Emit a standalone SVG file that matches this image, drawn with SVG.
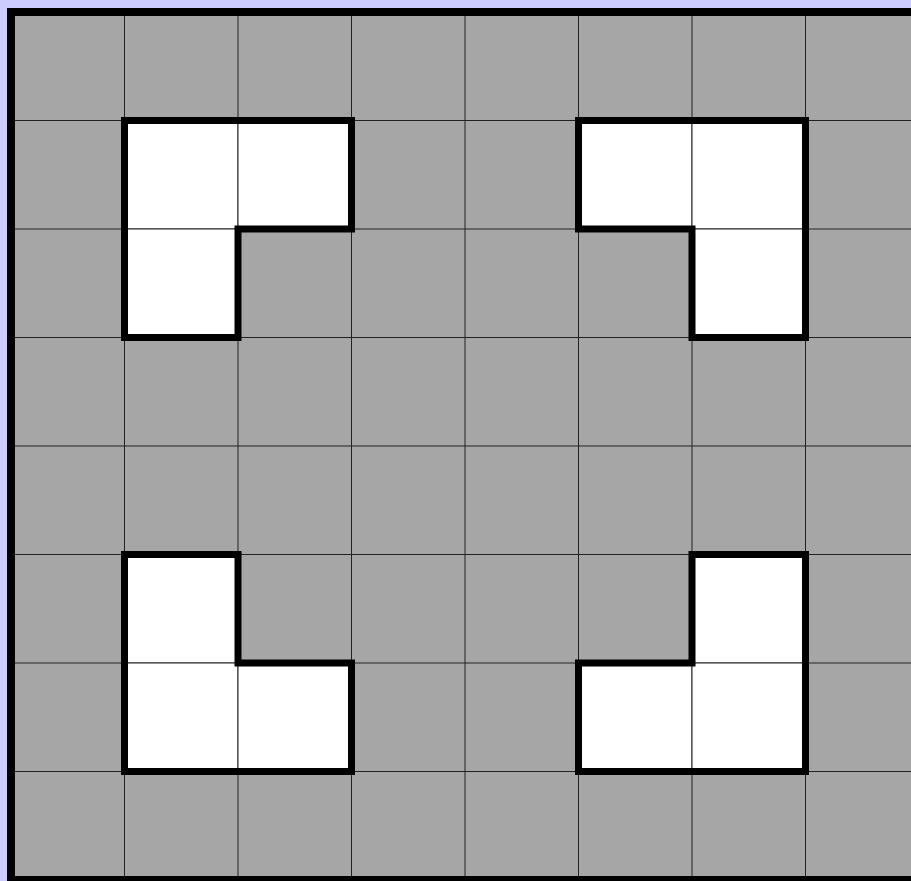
<svg xmlns="http://www.w3.org/2000/svg" width="911" height="881" viewBox="0 0 911 881">
<style>
.c{fill:#a6a6a6;stroke:#222;stroke-width:1}
.w{fill:#fff;stroke:#222;stroke-width:1}
.t{fill:none;stroke:#000;stroke-width:7;stroke-linejoin:miter;stroke-linecap:square}
</style>
<rect width="911" height="881" fill="#ccccff"/>
<g id="grid">
<rect class="c" x="11" y="12" width="908" height="868"/>
<path d="M124.5 12V880M238 12V880M351.5 12V880M465 12V880M578.5 12V880M692 12V880M805.5 12V880M11 120.5H919M11 229H919M11 337.5H919M11 446H919M11 554.5H919M11 663H919M11 771.5H919" stroke="#222" stroke-width="1" fill="none"/>
</g>
<g id="white-cells">
<rect class="w" x="124.5" y="120.5" width="113.5" height="108.5"/>
<rect class="w" x="238" y="120.5" width="113.5" height="108.5"/>
<rect class="w" x="124.5" y="229" width="113.5" height="108.5"/>
<rect class="w" x="578.5" y="120.5" width="113.5" height="108.5"/>
<rect class="w" x="692" y="120.5" width="113.5" height="108.5"/>
<rect class="w" x="692" y="229" width="113.5" height="108.5"/>
<rect class="w" x="124.5" y="554.5" width="113.5" height="108.5"/>
<rect class="w" x="124.5" y="663" width="113.5" height="108.5"/>
<rect class="w" x="238" y="663" width="113.5" height="108.5"/>
<rect class="w" x="692" y="554.5" width="113.5" height="108.5"/>
<rect class="w" x="578.5" y="663" width="113.5" height="108.5"/>
<rect class="w" x="692" y="663" width="113.5" height="108.5"/>
</g>
<g id="outlines">
<path class="t" d="M124.5 120.5H351.5V229H238V337.5H124.5Z"/>
<path class="t" d="M578.5 120.5H805.5V337.5H692V229H578.5Z"/>
<path class="t" d="M124.5 554.5H238V663H351.5V771.5H124.5Z"/>
<path class="t" d="M692 554.5H805.5V771.5H578.5V663H692Z"/>
</g>
<rect id="border" x="11" y="12" width="908" height="868" fill="none" stroke="#000" stroke-width="8"/>
</svg>
